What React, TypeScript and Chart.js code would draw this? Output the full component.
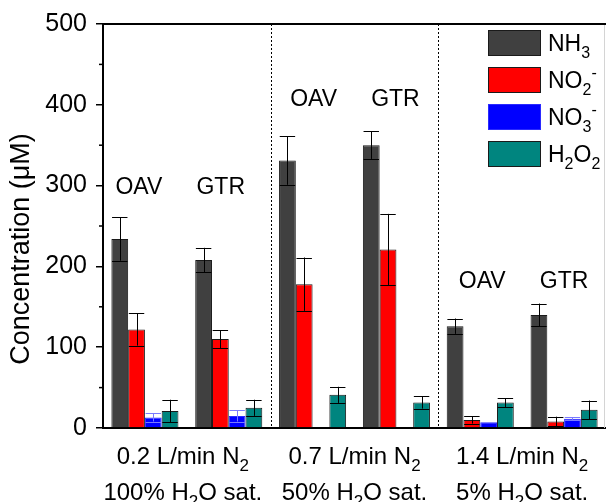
import React, { useEffect, useRef } from 'react';
import { Chart, registerables } from 'chart.js';

Chart.register(...registerables);

const FONT = '"Liberation Sans", Arial, Helvetica, sans-serif';

// ---- data ----
const categories = ['OAV', 'GTR', 'OAV', 'GTR', 'OAV', 'GTR'];
const nh3 = [234, 208, 331, 350, 126, 140];
const nh3Err = [27, 15, 30, 17, 9.5, 14];
const no2 = [122, 110, 178, 221, 10, 8];
const no2Err = [20, 11, 33, 44, 4.5, 6];
const no3 = [13, 15, 1, 1, 7, 11.5];
const no3Err = [5, 7, 0, 0, 0, 1.5];
const h2o2 = [21, 25, 41, 31.5, 31.5, 22.5];
const h2o2Err = [14, 10, 10, 7.5, 5.5, 11.5];

const seriesNames = ['NH_3', 'NO_2^-', 'NO_3^-', 'H_2O_2'];
const conditionLine1 = ['0.2 L/min N_2', '0.7 L/min N_2', '1.4 L/min N_2'];
const conditionLine2 = ['100% H_2O sat.', '50% H_2O sat.', '5% H_2O sat.'];
const groupLabelLevel = [290, 399, 173];
const yTitle = 'Concentration (\u03bcM)';
const yMax = 500;
const yStep = 100;
const yMinorStep = 50;

// ---- style ----
const seriesColors = ['#404040', '#ff0000', '#0000ff', '#00857f'];
const seriesBorders = ['#1a1a1a', '#1a1a1a', '#2a2aff', '#1a1a1a'];
const errColors = ['#000000', '#000000', '#7a7aff', '#000000'];
const groupLabelNudge = [-6, -8, 1, -1, 2, 0];
const conditionNudge = [-4, 0, 0];

type Part = { t: string; k: 'n' | 'sub' | 'sup' };

function parseRich(s: string): Part[] {
  const parts: Part[] = [];
  for (let i = 0; i < s.length; i++) {
    const c = s[i];
    if ((c === '_' || c === '^') && i + 1 < s.length) {
      parts.push({ t: s[i + 1], k: c === '_' ? 'sub' : 'sup' });
      i++;
    } else {
      const last = parts[parts.length - 1];
      if (last && last.k === 'n') last.t += c;
      else parts.push({ t: c, k: 'n' });
    }
  }
  return parts;
}

function drawRich(ctx: CanvasRenderingContext2D, s: string, x: number, y: number, size: number, align: 'left' | 'center') {
  const parts = parseRich(s);
  const small = Math.round(size * 0.7);
  const fontN = `${size}px ${FONT}`;
  const fontS = `${small}px ${FONT}`;
  let total = 0;
  const widths = parts.map((p) => {
    ctx.font = p.k === 'n' ? fontN : fontS;
    const w = ctx.measureText(p.t).width;
    total += w;
    return w;
  });
  let cx = align === 'center' ? x - total / 2 : x;
  ctx.textAlign = 'left';
  ctx.textBaseline = 'alphabetic';
  ctx.fillStyle = '#000';
  parts.forEach((p, i) => {
    ctx.font = p.k === 'n' ? fontN : fontS;
    const dy = p.k === 'sub' ? size * 0.3 : p.k === 'sup' ? -size * 0.42 : 0;
    ctx.fillText(p.t, cx, y + dy);
    cx += widths[i];
  });
}

const errorSets = [nh3Err, no2Err, no3Err, h2o2Err];
const valueSets = [nh3, no2, no3, h2o2];

const decorPlugin = {
  id: 'decor',
  beforeDatasetsDraw(chart: any) {
    const { ctx, chartArea, scales } = chart;
    const x = scales.x;
    const y = scales.y;
    ctx.save();
    // separators
    ctx.strokeStyle = '#000';
    ctx.lineWidth = 1;
    ctx.setLineDash([2, 2]);
    [1.5, 3.5].forEach((v) => {
      const px = Math.round(x.getPixelForValue(v)) + 0.5;
      ctx.beginPath();
      ctx.moveTo(px, chartArea.top);
      ctx.lineTo(px, chartArea.bottom);
      ctx.stroke();
    });
    ctx.setLineDash([]);
    // faint right edge
    ctx.strokeStyle = '#d4d4d4';
    ctx.beginPath();
    ctx.moveTo(chartArea.right - 1.5, chartArea.top);
    ctx.lineTo(chartArea.right - 1.5, chartArea.bottom);
    ctx.stroke();
    // top frame
    ctx.strokeStyle = '#000';
    ctx.lineWidth = 2;
    ctx.beginPath();
    ctx.moveTo(chartArea.left, chartArea.top);
    ctx.lineTo(chartArea.right, chartArea.top);
    ctx.stroke();
    // minor ticks
    ctx.lineWidth = 1.5;
    for (let v = yMinorStep; v < yMax; v += yStep) {
      const py = y.getPixelForValue(v);
      ctx.beginPath();
      ctx.moveTo(chartArea.left - 4, py);
      ctx.lineTo(chartArea.left, py);
      ctx.stroke();
    }
    ctx.restore();
  },
  afterDatasetsDraw(chart: any) {
    const { ctx, chartArea, scales } = chart;
    const x = scales.x;
    const y = scales.y;
    ctx.save();
    // error bars
    valueSets.forEach((vals, di) => {
      const meta = chart.getDatasetMeta(di);
      meta.data.forEach((el: any, i: number) => {
        const e = errorSets[di][i];
        if (!e) return;
        const v = vals[i];
        const top = y.getPixelForValue(v + e);
        const bot = y.getPixelForValue(Math.max(0, v - e));
        const half = el.width * 0.46;
        ctx.strokeStyle = errColors[di];
        ctx.lineWidth = 1;
        ctx.beginPath();
        const cx = Math.round(el.x) + 0.5;
        ctx.moveTo(cx, top);
        ctx.lineTo(cx, bot);
        ctx.moveTo(el.x - half, Math.round(top) + 0.5);
        ctx.lineTo(el.x + half, Math.round(top) + 0.5);
        ctx.moveTo(el.x - half, Math.round(bot) + 0.5);
        ctx.lineTo(el.x + half, Math.round(bot) + 0.5);
        ctx.stroke();
      });
    });
    // group labels
    categories.forEach((c, i) => {
      const lvl = groupLabelLevel[Math.floor(i / 2)];
      drawRich(ctx, c, x.getPixelForValue(i) + groupLabelNudge[i], y.getPixelForValue(lvl), 23, 'center');
    });
    // condition labels
    conditionLine1.forEach((t, ci) => {
      const cx = x.getPixelForValue(ci * 2 + 0.5) + conditionNudge[ci];
      drawRich(ctx, t, cx, chartArea.bottom + 36, 24, 'center');
      drawRich(ctx, conditionLine2[ci], cx, chartArea.bottom + 72, 24, 'center');
    });
    // y title
    ctx.save();
    ctx.translate(22, (chartArea.top + chartArea.bottom) / 2 + 23);
    ctx.rotate(-Math.PI / 2);
    ctx.font = `27px ${FONT}`;
    ctx.fillStyle = '#000';
    ctx.textAlign = 'center';
    ctx.textBaseline = 'middle';
    ctx.fillText(yTitle, 0, 0);
    ctx.restore();
    // legend
    const lx = 488;
    const lw = 53;
    const lh = 26;
    seriesNames.forEach((name, i) => {
      const ty = 30 + i * 37;
      ctx.fillStyle = seriesColors[i];
      ctx.fillRect(lx, ty, lw, lh);
      ctx.strokeStyle = seriesBorders[i];
      ctx.lineWidth = 1;
      ctx.strokeRect(lx + 0.5, ty + 0.5, lw - 1, lh - 1);
      drawRich(ctx, name, 548, ty + lh / 2 + 8, 23, 'left');
    });
    ctx.restore();
  },
};

export default function App() {
  const ref = useRef<HTMLCanvasElement | null>(null);
  useEffect(() => {
    if (!ref.current) return;
    const chart = new Chart(ref.current, {
      type: 'bar',
      data: {
        labels: categories,
        datasets: valueSets.map((vals, i) => ({
          label: seriesNames[i],
          data: vals,
          backgroundColor: seriesColors[i],
          borderColor: seriesBorders[i],
          borderWidth: 1,
          categoryPercentage: 0.8,
          barPercentage: 1.0,
        })),
      },
      options: {
        animation: false,
        responsive: false,
        devicePixelRatio: 1,
        layout: { padding: { top: 21, right: 0, bottom: 0, left: 0 } },
        plugins: { legend: { display: false }, tooltip: { enabled: false } },
        scales: {
          x: {
            grid: { display: false },
            ticks: { display: false },
            border: { color: '#000', width: 2 },
            afterFit: (s: any) => {
              s.height = 74;
            },
          },
          y: {
            min: 0,
            max: yMax,
            ticks: {
              stepSize: yStep,
              color: '#000',
              padding: 9,
              font: { size: 25, family: FONT },
            },
            grid: { drawOnChartArea: false, tickLength: 7, color: '#000', lineWidth: 1.5 },
            border: { color: '#000', width: 2 },
            afterFit: (s: any) => {
              s.width = 103;
            },
          },
        },
      },
      plugins: [decorPlugin],
    } as any);
    return () => chart.destroy();
  }, []);
  return (
    <div style={{ position: 'absolute', left: 0, top: 0, width: 606, height: 502, background: '#fff' }}>
      <canvas ref={ref} width={606} height={502} style={{ display: 'block' }} />
    </div>
  );
}
